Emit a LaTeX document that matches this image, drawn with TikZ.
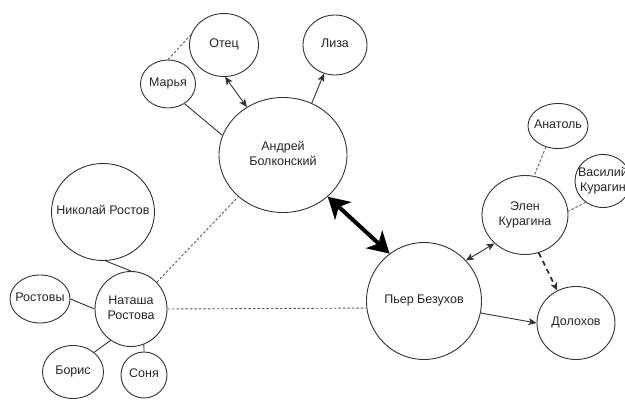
\documentclass[tikz,border=0pt]{standalone}
\usepackage{fontspec}
\setmainfont{Liberation Sans}
\usetikzlibrary{shapes.geometric,arrows.meta}
\newcommand{\who}[1]{\makebox[0pt]{\begin{tabular}{@{}c@{}}#1\end{tabular}}}

\begin{document}
\begin{tikzpicture}[
		x=1pt, y=-1pt,
		person/.style 2 args={ellipse, draw=black!80, line width=0.9pt, inner sep=0pt,
			minimum width=#1pt, minimum height=#2pt, font=\fontsize{12.5}{14.5}\selectfont, text=black!85},
		tie/.style={draw=black!80, line width=0.9pt},
		loose/.style={tie, draw=black!65, dash pattern=on 2.5pt off 2pt},
		lead/.style={tie, -{Stealth[length=8pt, width=7pt, inset=2pt]}},
		mutual/.style={tie, {Stealth[length=8pt, width=7pt, inset=2pt]}-{Stealth[length=8pt, width=7pt, inset=2pt]}}
		]
		\fill[white] (0,0) rectangle (625,401);
		\useasboundingbox (0,0) rectangle (625,401);
		\clip (0,0) rectangle (625,401);
		% Bolkonsky family
		\node[person={128}{115}] (andrey) at (283,155) {\who{Андрей\\Болконский}};
		\node[person={69}{63}] (otec) at (224,45) {\who{Отец}};
		\node[person={64}{60}] (liza) at (335,45) {\who{Лиза}};
		\node[person={55}{48}] (marya) at (168,84) {\who{Марья}};
		% Rostov family
		\node[person={103}{97}] (nikolay) at (103,212) {\who{Николай Ростов}};
		\node[person={72}{75}] (natasha) at (131,309) {\who{Наташа\\Ростова}};
		\node[person={60}{48}] (rostovy) at (40,299) {\who{Ростовы}};
		\node[person={61}{53}] (boris) at (73,372) {\who{Борис}};
		\node[person={46}{46}] (sonya) at (144,375) {\who{Соня}};
		% Bezukhov and Kuragins
		\node[person={115}{117}] (pierre) at (424,301) {\who{Пьер Безухов}};
		\node[person={86}{79}] (helene) at (525,215) {\who{Элен\\Курагина}};
		\node[person={60}{45}] (anatol) at (558,126) {\who{Анатоль}};
		\node[person={56}{53}] (vasily) at (603,181) {\who{Василий\\Курагин}};
		\node[person={78}{73}] (dolokhov) at (576,323) {\who{Долохов}};

		% Links
		\draw[loose] (marya.90) -- (otec.163);
		\draw[mutual] (otec.-88) -- (andrey.127);
		\draw[lead] (andrey.61) -- (liza.249);
		\draw[tie] (marya.-50) -- (andrey.162);
		\draw[loose] (natasha.46) -- (andrey.223);
		\draw[tie] (nikolay.-87) -- (natasha.90);
		\draw[tie] (rostovy.0) -- (natasha.180);
		\draw[tie] (boris.43) -- (natasha.237);
		\draw[tie] (sonya.90) -- (natasha.-70);
		\draw[loose] (natasha.0) -- (pierre.187);
		\draw[tie, draw=black, line width=4pt, {Stealth[length=21pt, width=24pt, inset=6pt]}-{Stealth[length=21pt, width=24pt, inset=6pt]}] (andrey.-43) -- (pierre.126);
		\draw[mutual] (pierre.44) -- (helene.223);
		\draw[lead] (pierre.-12) -- (dolokhov.180);
		\draw[lead, line width=1.8pt, dash pattern=on 5pt off 4pt] (helene.-70) -- (dolokhov.120);
		\draw[loose] (anatol.-120) -- (helene.77);
		\draw[loose] (vasily.231) -- (helene.5);
	\end{tikzpicture}
\end{document}
